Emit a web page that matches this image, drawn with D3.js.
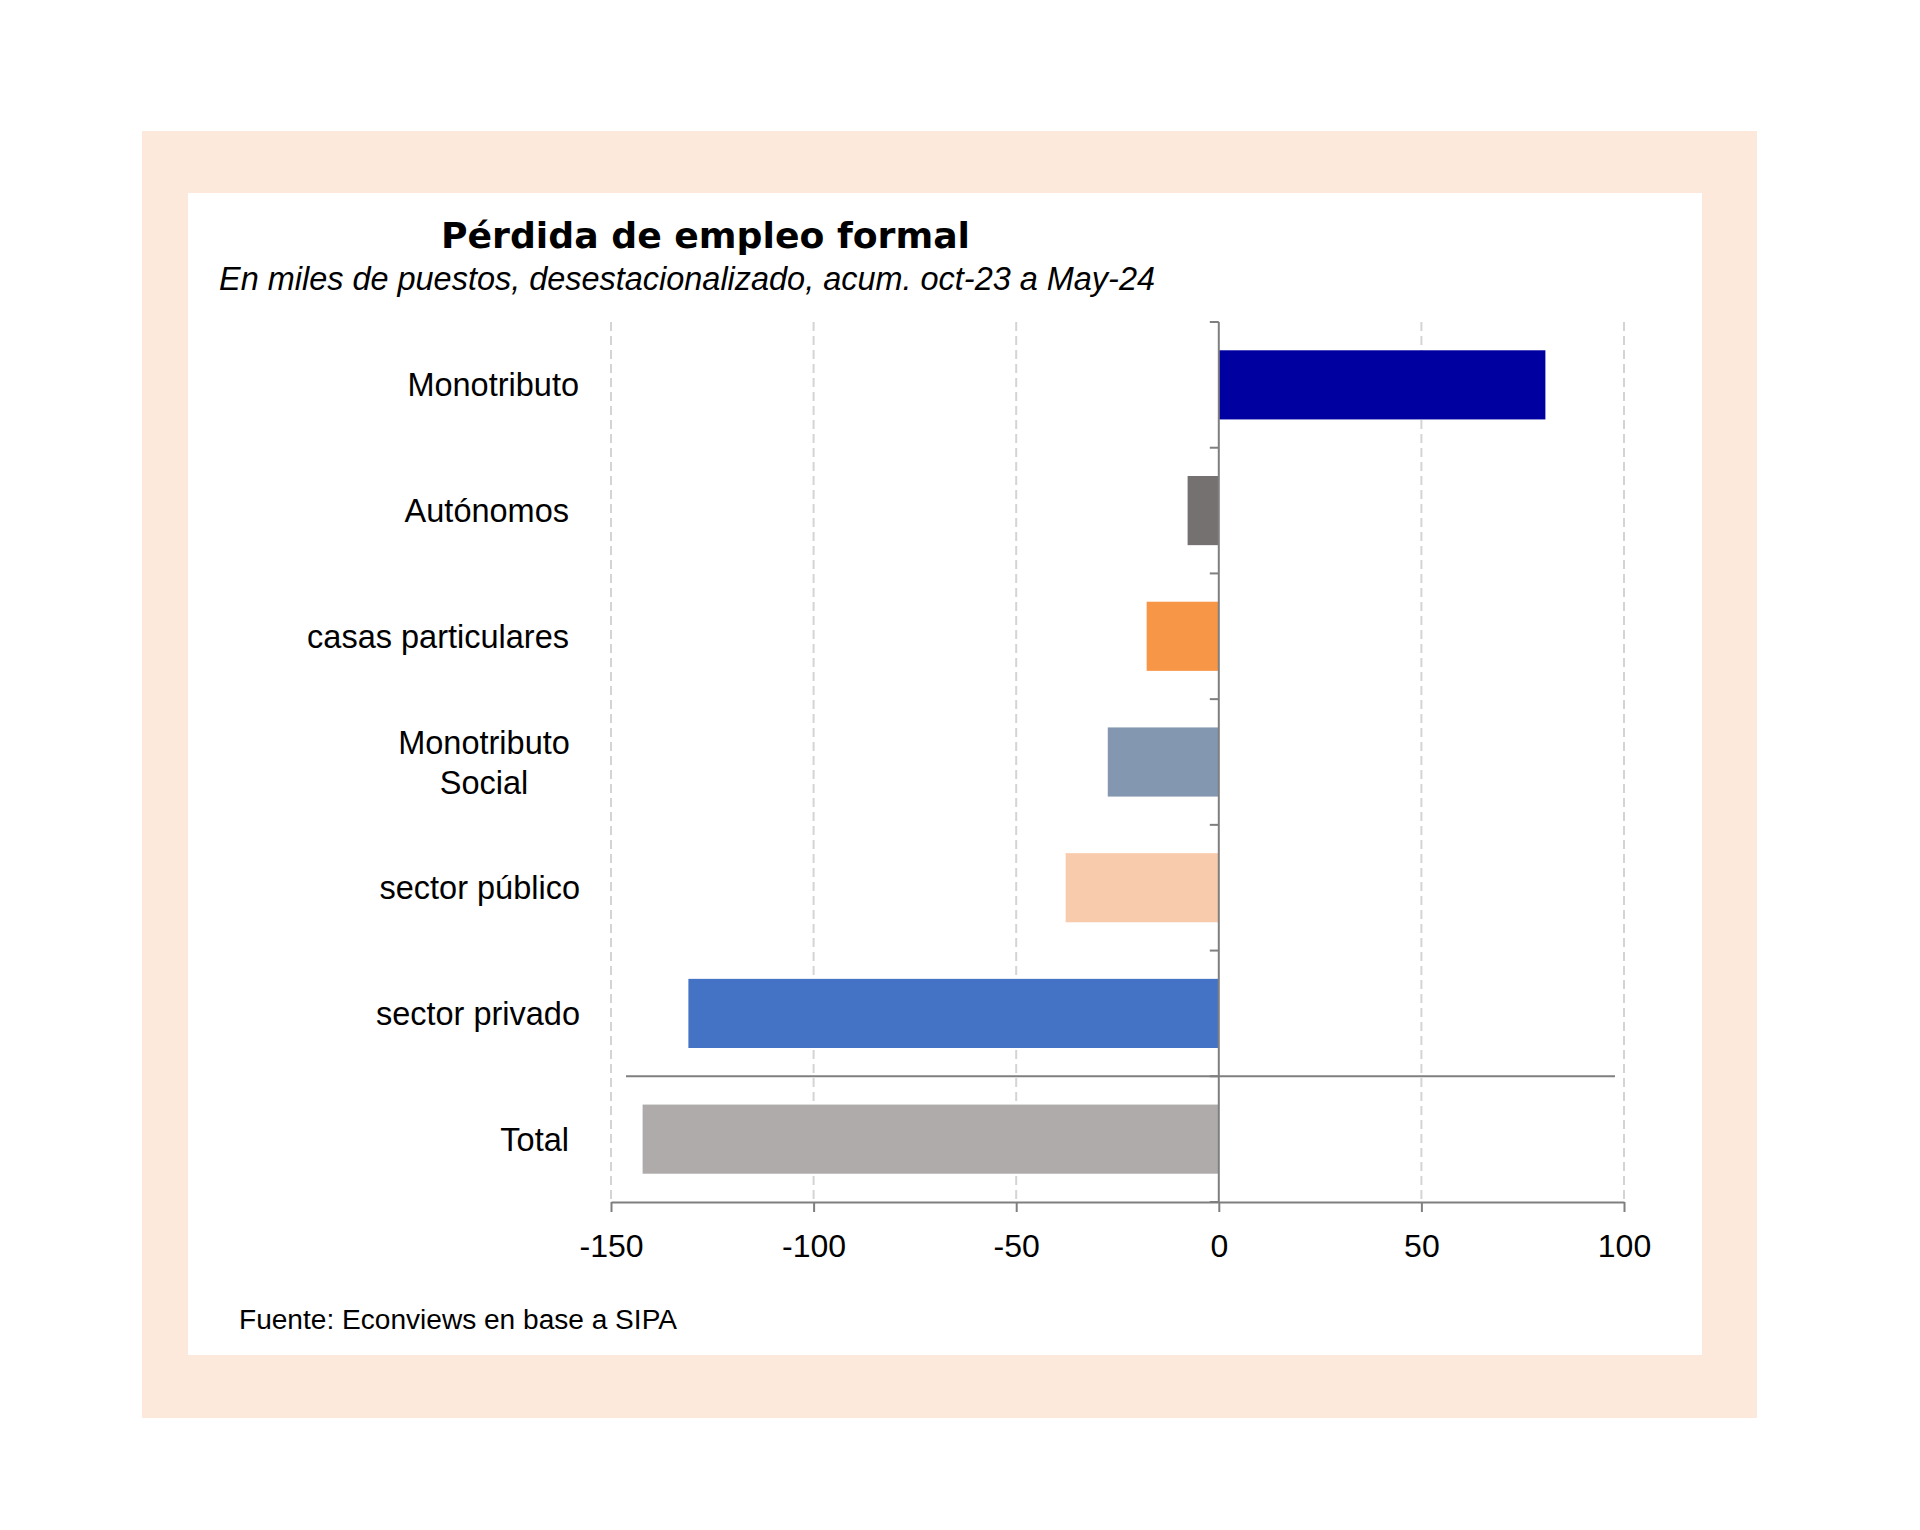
<!DOCTYPE html>
<html>
<head>
<meta charset="utf-8">
<script src="https://cdn.jsdelivr.net/npm/d3@7"></script>
<style>
  html, body { margin: 0; padding: 0; background: #ffffff; }
  svg { display: block; }
</style>
</head>
<body>
<svg id="chart" width="1920" height="1530"></svg>
<script>
// ---- Data ----
const categories = ["Monotributo", "Autónomos", "casas particulares", "Monotributo\nSocial", "sector público", "sector privado", "Total"];
const values = [80.6, -7.7, -17.8, -27.4, -37.8, -130.9, -142.2];
const xTicks = [-150, -100, -50, 0, 50, 100];
const titleText = "Pérdida de empleo formal";
const subtitleText = "En miles de puestos, desestacionalizado, acum. oct-23 a May-24";
const sourceText = "Fuente: Econviews en base a SIPA";

// ---- Styles ----
const barColors = ["#0000a0", "#767171", "#f79646", "#8497b0", "#f8cbad", "#4472c4", "#afabab"];
const labelEndX = [579, 569, 569, 484, 580, 580, 569];
const axisColor = "#7f7f7f";
const gridColor = "#d4d4d4";
const labelFont = "'Liberation Sans', Arial, sans-serif";

const svg = d3.select("#chart");

// Frame
svg.append("rect").attr("x", 142).attr("y", 131).attr("width", 1615).attr("height", 1287).attr("fill", "#fce9dc");
svg.append("rect").attr("x", 188).attr("y", 193).attr("width", 1514).attr("height", 1162).attr("fill", "#ffffff");

// Scales
const x = d3.scaleLinear().domain([-150, 100]).range([611, 1624]);
const y = d3.scaleBand().domain(categories).range([322, 1202]).paddingInner(0.45).paddingOuter(0.225);

// Gridlines
svg.append("g").selectAll("line")
  .data(xTicks.filter(d => d !== 0))
  .join("line")
  .attr("x1", d => x(d)).attr("x2", d => x(d))
  .attr("y1", 322).attr("y2", 1202)
  .attr("stroke", gridColor).attr("stroke-width", 2)
  .attr("stroke-dasharray", "9,5");

// Bars
svg.append("g").selectAll("rect")
  .data(values)
  .join("rect")
  .attr("x", d => x(Math.min(0, d)))
  .attr("width", d => Math.abs(x(d) - x(0)))
  .attr("y", (d, i) => y(categories[i]))
  .attr("height", y.bandwidth())
  .attr("fill", (d, i) => barColors[i]);

// Separator line above Total
const sepY = y.range()[0] + (categories.length - 1) * y.step();
svg.append("line")
  .attr("x1", x(-150) + 15).attr("x2", x(100) - 9)
  .attr("y1", sepY).attr("y2", sepY)
  .attr("stroke", axisColor).attr("stroke-width", 2);

// X axis
const xAxis = d3.axisBottom(x).tickValues(xTicks).tickSize(10).tickSizeOuter(0).tickFormat(d3.format("d"));
const gx = svg.append("g").attr("transform", "translate(0,1202)").call(xAxis);
gx.select(".domain").attr("stroke", axisColor).attr("stroke-width", 2);
gx.selectAll(".tick line").attr("stroke", axisColor).attr("stroke-width", 2);
gx.selectAll(".tick text")
  .attr("y", 0).attr("dy", 0)
  .attr("transform", "translate(0,55)")
  .attr("font-family", labelFont).attr("font-size", 32).attr("fill", "#000")
  .text(d => d < 0 ? "-" + Math.abs(d) : d);

// Y axis line at 0 with ticks at band boundaries
svg.append("line")
  .attr("x1", x(0)).attr("x2", x(0))
  .attr("y1", y.range()[0]).attr("y2", y.range()[1])
  .attr("stroke", axisColor).attr("stroke-width", 2);
const boundaries = d3.range(categories.length + 1).map(i => y.range()[0] + i * y.step());
svg.append("g").selectAll("line")
  .data(boundaries)
  .join("line")
  .attr("x1", x(0) - 9).attr("x2", x(0))
  .attr("y1", d => d).attr("y2", d => d)
  .attr("stroke", axisColor).attr("stroke-width", 2);

// Category labels
const labelG = svg.append("g");
categories.forEach((c, i) => {
  const lines = c.split("\n");
  const cy = y(c) + y.bandwidth() / 2;
  const lh = 40;
  const t = labelG.append("text")
    .attr("font-family", labelFont).attr("font-size", 32.5).attr("fill", "#000")
    .attr("text-anchor", lines.length > 1 ? "middle" : "end");
  lines.forEach((ln, j) => {
    t.append("tspan")
      .attr("x", labelEndX[i])
      .attr("y", cy + 11.5 + (j - (lines.length - 1) / 2) * lh)
      .text(ln);
  });
});

// Title
svg.append("text")
  .attr("x", 441).attr("y", 248)
  .attr("font-family", "'DejaVu Sans', Verdana, sans-serif").attr("font-weight", "bold")
  .attr("font-size", 36).attr("fill", "#000")
  .attr("textLength", 529).attr("lengthAdjust", "spacingAndGlyphs")
  .text(titleText);

// Subtitle
svg.append("text")
  .attr("x", 219).attr("y", 290)
  .attr("font-family", labelFont).attr("font-style", "italic")
  .attr("font-size", 33).attr("fill", "#000")
  .attr("textLength", 936).attr("lengthAdjust", "spacingAndGlyphs")
  .text(subtitleText);

// Source
svg.append("text")
  .attr("x", 239).attr("y", 1329)
  .attr("font-family", labelFont)
  .attr("font-size", 27).attr("fill", "#000")
  .attr("textLength", 438).attr("lengthAdjust", "spacingAndGlyphs")
  .text(sourceText);
</script>
</body>
</html>
